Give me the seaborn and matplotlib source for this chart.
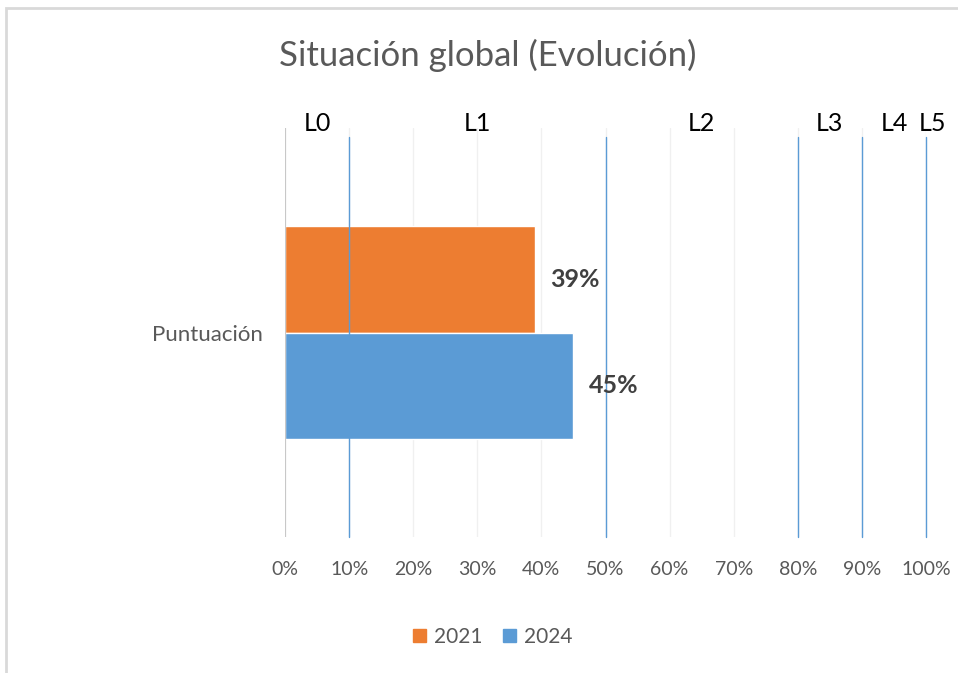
import matplotlib
matplotlib.use("Agg")
import matplotlib.pyplot as plt
import matplotlib.patches as mpatches
from matplotlib.ticker import PercentFormatter, MultipleLocator
import seaborn as sns
import pandas as pd

# datos
categorias = ["Puntuación"]
anios = ["2021", "2024"]
valores = [0.39, 0.45]
colores = ["#ED7D31", "#5B9BD5"]

# niveles de madurez
limites_nivel = [0.10, 0.50, 0.80, 0.90, 1.00]
etiquetas_nivel = ["L0", "L1", "L2", "L3", "L4", "L5"]
pos_etiquetas_nivel = [0.05, 0.30, 0.65, 0.85, 0.95, 1.01]

df = pd.DataFrame({"categoria": categorias * len(anios), "anio": anios, "valor": valores})

sns.set_style("white")
plt.rcParams["font.family"] = ["Lato", "DejaVu Sans"]

W, H = 958, 673
fig = plt.figure(figsize=(W / 100, H / 100), dpi=100)
ax = fig.add_axes([285 / W, 1 - 537 / H, (926 - 285) / W, (537 - 128) / H])

sns.barplot(data=df, y="categoria", x="valor", hue="anio", palette=colores,
            orient="h", width=0.523, ax=ax, legend=False, saturation=1)

ax.set_xlim(0, 1)
ax.set_ylim(0.5, -0.5)
ax.xaxis.set_major_locator(MultipleLocator(0.1))
ax.xaxis.set_major_formatter(PercentFormatter(1.0, decimals=0))
ax.set_xlabel("")
ax.set_ylabel("")
ax.grid(axis="x", color="#F0F0F0", linewidth=1)
ax.set_axisbelow(True)
for s in ax.spines.values():
    s.set_visible(False)
ax.axvline(0, color="#C8C8C8", linewidth=1.5, zorder=1)
ax.tick_params(axis="x", length=0, pad=17, labelsize=14, labelcolor="#595959")
ax.tick_params(axis="y", length=0, pad=16, labelsize=16, labelcolor="#595959")

for lim in limites_nivel:
    ax.axvline(lim, ymax=0.978, color="#5B9BD5", linewidth=1, zorder=3, clip_on=False)

for txt, xpos in zip(etiquetas_nivel, pos_etiquetas_nivel):
    ax.text(xpos, 1.012, txt, transform=ax.get_xaxis_transform(),
            ha="center", va="center", fontsize=18, color="black")

for cont in ax.containers:
    ax.bar_label(cont, labels=[f"{v * 100:.0f}%" for v in cont.datavalues],
                 padding=11, fontsize=18, fontweight="bold", color="#404040")

fig.text(488 / W, 1 - 55 / H, "Situación global (Evolución)", ha="center", va="center",
         fontsize=25, color="#595959")

handles = [mpatches.Patch(color=c, label=a) for a, c in zip(anios, colores)]
fig.legend(handles=handles, loc="center", bbox_to_anchor=(493 / W, 1 - 637 / H), ncol=2,
           frameon=False, fontsize=15, labelcolor="#595959", handlelength=0.6,
           handleheight=0.6, handletextpad=0.4, columnspacing=1.0)

# borde del gráfico
fig.patches.append(mpatches.Rectangle((6 / W, -0.1), 1.2, 1 - 8 / H + 0.1,
                                      transform=fig.transFigure, fill=False,
                                      edgecolor="#D9D9D9", linewidth=2))

fig.savefig("out.png", dpi=100)
